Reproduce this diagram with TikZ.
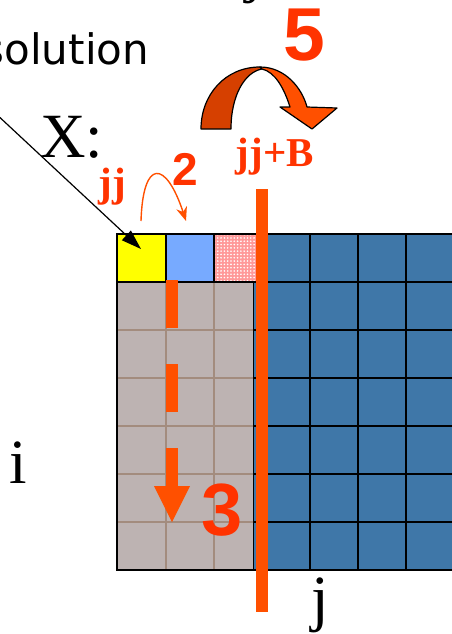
\documentclass[tikz,border=0pt]{standalone}
\usepackage{fontspec}
\setmainfont{Liberation Serif}
\newfontfamily\labsans{Liberation Sans}
\newfontfamily\dvsans{DejaVu Sans}
\usetikzlibrary{arrows.meta,patterns.meta}
\definecolor{cellyellow}{RGB}{255,255,0}
\definecolor{cellblue}{RGB}{119,170,255}
\definecolor{cellpink}{RGB}{255,153,153}
\definecolor{graycell}{RGB}{189,179,178}
\definecolor{grayline}{RGB}{163,140,126}
\definecolor{steel}{RGB}{63,119,168}
\definecolor{hot}{RGB}{255,80,0}
\definecolor{redlab}{RGB}{255,51,0}
\definecolor{darkor}{RGB}{214,64,0}
\tikzset{
  txt/.style={inner sep=0pt, outer sep=0pt},
  serifbig/.style={txt, font=\fontsize{63}{63}\selectfont},
  boldlab/.style={txt, text=redlab, font=\bfseries\fontsize{41}{41}\selectfont},
  numlab/.style={txt, text=redlab, anchor=base, font=\labsans\bfseries\fontsize{#1}{#1}\selectfont},
  cellline/.style={draw=black, line width=1.5pt},
  inner/.style={draw=grayline, line width=1.5pt},
  bigarrow/.style={draw=black, line width=1.2pt, line join=round},
}
\begin{document}
\begin{tikzpicture}[x=1pt,y=-1pt]
\useasboundingbox (0,0) rectangle (452,634);
\fill[white] (0,0) rectangle (452,634);

% gray block
\fill[graycell] (117,282) rectangle (254,570);
\foreach \xx in {166,214} \draw[inner] (\xx,282) -- (\xx,570);
\foreach \yy in {330,378,426,474,522} \draw[inner] (117,\yy) -- (254,\yy);
\draw[cellline] (117,282) rectangle (254,570);

% blue region
\fill[steel] (254,282) rectangle (460,570);
\fill[steel] (262,234) rectangle (460,282);
\foreach \xx in {310,358,406} \draw[cellline] (\xx,234) -- (\xx,570);
\foreach \yy in {282,330,378,426,474,522,570} \draw[cellline] (254,\yy) -- (460,\yy);
\draw[cellline] (262,234) -- (460,234);

% top row cells
\fill[cellyellow] (117,234) rectangle (166,282);
\fill[cellblue] (166,234) rectangle (214,282);
\fill[cellpink] (214,234) rectangle (262,282);
\fill[pattern={Dots[distance=3.3pt,radius=0.9pt]}, pattern color=white] (214,234) rectangle (262,282);
\draw[cellline] (117,234) rectangle (166,282);
\draw[cellline] (166,234) rectangle (214,282);
\draw[cellline] (214,234) rectangle (262,282);

% dashed arrow 3
\coordinate (d1) at (172,280);
\coordinate (d2) at (172,487);
\draw[hot, line width=12pt, dash pattern=on 48pt off 36pt] (d1) -- (d2);
\fill[hot] (154,486) -- (190,486) -- (172,522) -- cycle;

% vertical orange line
\coordinate (v1) at (262,189);
\coordinate (v2) at (262,612);
\draw[hot, line width=12pt] (v1) -- (v2);

% black arrow into X(jj)
\coordinate (xs) at (-6,112);
\coordinate (xt) at (141,249);
\draw[line width=1.2pt, -{Triangle[length=20pt,width=13pt]}] (xs) -- (xt);

% small curved arrow 2
\coordinate (s1) at (141,221);
\coordinate (s2) at (186,221);
\draw[hot, line width=1.4pt, -{Stealth[length=14pt,width=11pt]}] (s1) .. controls (143,158) and (166,160) .. (s2);

% big curved arrow 5
\filldraw[bigarrow, fill=darkor] (201,129) .. controls (201,95) and (225,67) .. (260,67)
   -- (262,69) .. controls (245,72) and (231,95) .. (231,129) -- cycle;
\filldraw[bigarrow, fill=hot] (260,67) .. controls (285,67) and (302,88) .. (307,107)
   -- (337,108) -- (312,129) -- (280,107) -- (290,107)
   .. controls (284,88) and (275,72) .. (262,69) -- cycle;

% texts
\node[txt, anchor=base east, font=\dvsans\fontsize{42}{42}\selectfont] (sol) at (149,65) {solution};
\node[serifbig, anchor=base west] (topj) at (245,-9) {j,};
\node[serifbig, anchor=base west] (xlab) at (40,157) {X:};
\node[serifbig, anchor=base] (ilab) at (18,483) {i};
\node[serifbig, anchor=base west] (jlab) at (311,619) {j};
\node[boldlab, anchor=base] (jjlab) at (112,196) {jj};
\node[boldlab, anchor=base] (jjb) at (275,166) {jj+B};
\node[numlab=46] (n2) at (185,185) {2};
\node[numlab=74] (n3) at (222,535) {3};
\node[numlab=75] (n5) at (304,60) {5};
\end{tikzpicture}
\end{document}
